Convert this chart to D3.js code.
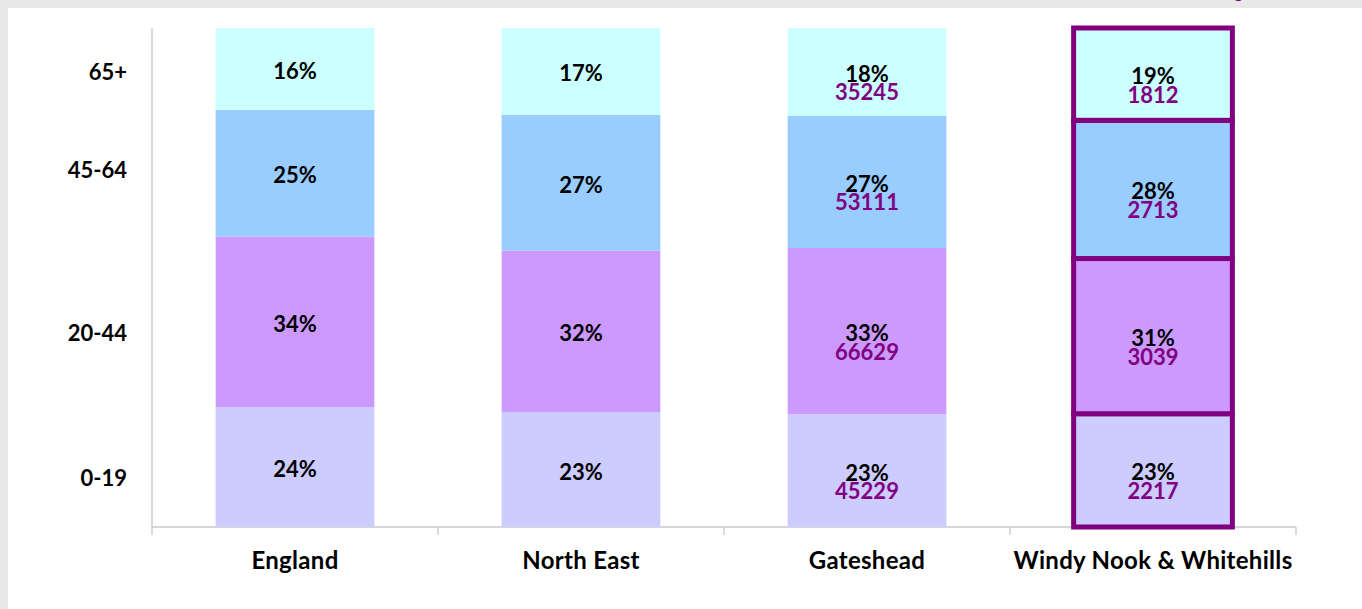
<!DOCTYPE html>
<html>
<head>
<meta charset="utf-8">
<script src="https://cdn.jsdelivr.net/npm/d3@7"></script>
<style>
  html, body { margin: 0; padding: 0; background: #e8e8e8; }
  svg { display: block; }
  text { font-family: Lato, "Open Sans", sans-serif; font-weight: bold; }
</style>
</head>
<body>
<div id="chart"></div>
<script>
const areas = ["England", "North East", "Gateshead", "Windy Nook & Whitehills"];
const ageBands = ["0-19", "20-44", "45-64", "65+"];

// percentage share of each age band, bottom to top
const englandPct = [24.0, 34.2, 25.4, 16.4];
const northEastPct = [23.0, 32.4, 27.2, 17.4];
const gatesheadPct = [22.6, 33.3, 26.5, 17.6];
const windyNookPct = [22.7, 31.1, 27.7, 18.5];

// resident counts (only shown for the local areas)
const gatesheadCounts = [45229, 66629, 53111, 35245];
const windyNookCounts = [2217, 3039, 2713, 1812];

const bandColors = ["#ccccff", "#cc99ff", "#99ccff", "#ccffff"];
const purple = "#800080";

const W = 1362, H = 609;
const margin = { top: 28, right: 66, bottom: 82, left: 152 };

const svg = d3.select("#chart").append("svg")
    .attr("width", W)
    .attr("height", H);

svg.append("rect")
    .attr("x", 8).attr("y", 8)
    .attr("width", W - 8).attr("height", H - 8)
    .attr("fill", "#fff");

// heading sits above the visible area, only the tail of the g shows
svg.append("text")
    .attr("x", 1243).attr("y", -2)
    .attr("text-anchor", "end")
    .attr("fill", purple)
    .style("font-weight", "normal")
    .style("font-size", "18px")
    .text("Ward Briefing");

const x = d3.scaleBand()
    .domain(areas)
    .range([margin.left, W - margin.right])
    .paddingInner(0.445)
    .paddingOuter(0.2225);

const y = d3.scaleLinear()
    .domain([0, 100])
    .range([H - margin.bottom, margin.top]);

const grid = svg.append("g");

// axes
grid.append("line")
    .attr("x1", margin.left).attr("x2", margin.left)
    .attr("y1", y(100)).attr("y2", y(0))
    .attr("stroke", "#c8c8c8").attr("stroke-width", 1.3);
grid.append("line")
    .attr("x1", margin.left).attr("x2", W - margin.right)
    .attr("y1", y(0)).attr("y2", y(0))
    .attr("stroke", "#c8c8c8").attr("stroke-width", 1.3);

const xb = d3.scaleLinear().domain([0, areas.length]).range([margin.left, W - margin.right]);
grid.selectAll(".tick")
    .data(d3.range(areas.length + 1))
    .enter().append("line")
    .attr("x1", d => xb(d)).attr("x2", d => xb(d))
    .attr("y1", y(0)).attr("y2", y(0) + 8)
    .attr("stroke", "#c8c8c8").attr("stroke-width", 1.3);

// category labels
svg.selectAll(".cat")
    .data(areas)
    .enter().append("text")
    .attr("x", d => x(d) + x.bandwidth() / 2)
    .attr("y", 569)
    .attr("text-anchor", "middle")
    .style("font-size", "24px")
    .style("letter-spacing", "0.3px")
    .text(d => d);

// age band labels on the left
const ageLabelPos = [9.8, 38.9, 71.5, 91.2];
svg.selectAll(".age")
    .data(ageBands)
    .enter().append("text")
    .attr("x", 127)
    .attr("y", (d, i) => y(ageLabelPos[i]) + 8)
    .attr("text-anchor", "end")
    .style("font-size", "22px")
    .text(d => d);

const series = [
    { area: "England", pct: englandPct, counts: null, highlight: false },
    { area: "North East", pct: northEastPct, counts: null, highlight: false },
    { area: "Gateshead", pct: gatesheadPct, counts: gatesheadCounts, highlight: false },
    { area: "Windy Nook & Whitehills", pct: windyNookPct, counts: windyNookCounts, highlight: true }
];

series.forEach(s => {
    const cum = d3.cumsum(s.pct);
    const segs = s.pct.map((p, i) => ({
        band: i, p, lo: cum[i] - p, hi: cum[i],
        count: s.counts ? s.counts[i] : null
    }));

    const g = svg.append("g");
    g.selectAll("rect")
        .data(segs)
        .enter().append("rect")
        .attr("x", x(s.area))
        .attr("width", x.bandwidth())
        .attr("y", d => y(d.hi))
        .attr("height", d => y(d.lo) - y(d.hi))
        .attr("fill", d => bandColors[d.band])
        .attr("stroke", s.highlight ? purple : "none")
        .attr("stroke-width", s.highlight ? 5 : 0);

    const cx = x(s.area) + x.bandwidth() / 2;
    g.selectAll(".pct")
        .data(segs)
        .enter().append("text")
        .attr("x", cx)
        .attr("y", d => (y(d.lo) + y(d.hi)) / 2 + 10)
        .attr("text-anchor", "middle")
        .attr("fill", "#000")
        .style("font-size", "22px")
        .text(d => Math.round(d.p) + "%");

    if (s.counts) {
        g.selectAll(".cnt")
            .data(segs)
            .enter().append("text")
            .attr("x", cx)
            .attr("y", d => (y(d.lo) + y(d.hi)) / 2 + 28.5)
            .attr("text-anchor", "middle")
            .attr("fill", purple)
            .style("font-size", "22px")
            .text(d => d.count);
    }
});
</script>
</body>
</html>
